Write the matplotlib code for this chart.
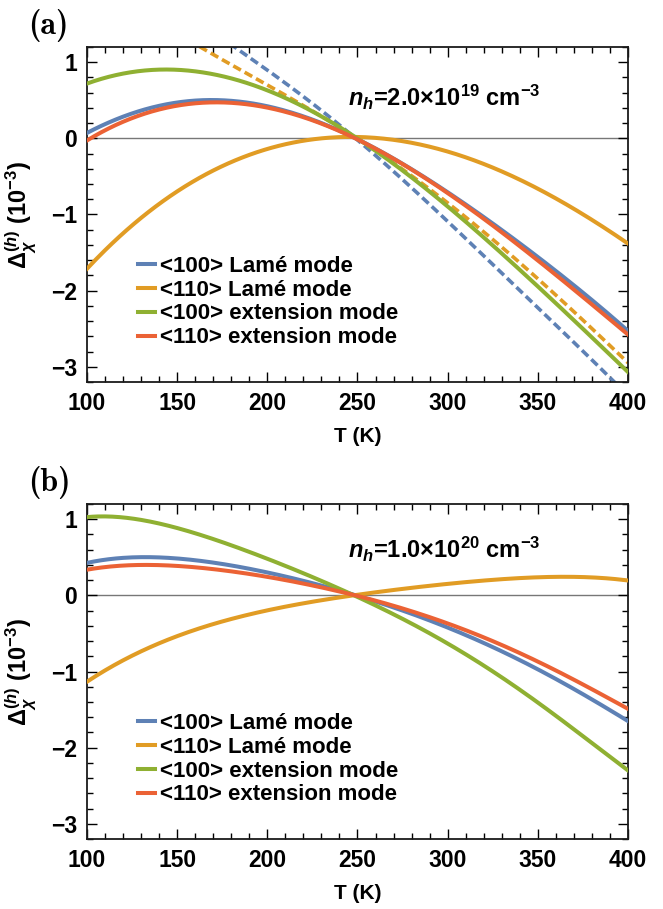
import numpy as np
import matplotlib
matplotlib.use("Agg")
import matplotlib.pyplot as plt
from matplotlib.ticker import MultipleLocator

plt.rcParams['font.family'] = ['Liberation Sans', 'DejaVu Sans']
plt.rcParams['font.weight'] = 'bold'
plt.rcParams['mathtext.fontset'] = 'custom'
plt.rcParams['mathtext.rm'] = 'Liberation Sans:bold'
plt.rcParams['mathtext.bf'] = 'Liberation Sans:bold'
plt.rcParams['mathtext.it'] = 'Liberation Sans:italic:bold'

# data (values in units of 1e-3)
T = [100, 125, 150, 175, 200, 225, 250, 275, 300, 325, 350, 375, 400]

# panel (a), n_h = 2.0e19
a_lame100 = [0.07, 0.33, 0.47, 0.50, 0.42, 0.24, 0.0, -0.33, -0.72, -1.12, -1.55, -2.03, -2.53]
a_lame110 = [-1.71, -1.15, -0.70, -0.36, -0.13, -0.01, 0.0, -0.05, -0.15, -0.38, -0.67, -1.00, -1.38]
a_ext100 = [0.72, 0.87, 0.90, 0.82, 0.63, 0.35, 0.0, -0.42, -0.90, -1.40, -1.95, -2.50, -3.07]
a_ext110 = [-0.03, 0.27, 0.43, 0.47, 0.40, 0.23, 0.0, -0.33, -0.73, -1.15, -1.60, -2.08, -2.58]
# dashed curves in (a)
Td = [150, 175, 200, 225, 250, 275, 300, 325, 350, 375, 400]
a_dash_blue = [1.75, 1.32, 0.89, 0.45, 0.0, -0.55, -1.10, -1.65, -2.22, -2.80, -3.38]
a_dash_orange = [1.38, 1.04, 0.70, 0.35, 0.0, -0.40, -0.85, -1.33, -1.85, -2.38, -2.95]

# panel (b), n_h = 1.0e20
b_lame100 = [0.43, 0.49, 0.49, 0.42, 0.30, 0.15, 0.0, -0.20, -0.42, -0.68, -0.97, -1.30, -1.65]
b_lame110 = [-1.13, -0.80, -0.54, -0.33, -0.19, -0.09, 0.0, 0.08, 0.16, 0.21, 0.24, 0.23, 0.20]
b_ext100 = [1.03, 1.00, 0.90, 0.70, 0.47, 0.23, 0.0, -0.30, -0.65, -1.00, -1.40, -1.85, -2.30]
b_ext110 = [0.34, 0.39, 0.39, 0.34, 0.24, 0.12, 0.0, -0.17, -0.37, -0.60, -0.87, -1.17, -1.49]

labels = ["<100> Lamé mode", "<110> Lamé mode",
          "<100> extension mode", "<110> extension mode"]
colors = ["#5E81B5", "#E19C24", "#8FB032", "#EB6235"]


def smooth(x, y, n=300):
    # smooth polynomial through the read points
    xs = np.linspace(x[0], x[-1], n)
    c = np.polyfit(x, y, 5)
    return xs, np.polyval(c, xs)


fig = plt.figure(figsize=(6.63, 9.09), dpi=100)
ax1 = fig.add_axes([0.1312, 0.5798, 0.816, 0.3685])
ax2 = fig.add_axes([0.1312, 0.0770, 0.816, 0.3685])

panels = [
    (ax1, [a_lame100, a_lame110, a_ext100, a_ext110],
     r'$\it{n}_{\it{h}}$=2.0×10$^{19}$ cm$^{-3}$', "(a)", 0.54),
    (ax2, [b_lame100, b_lame110, b_ext100, b_ext110],
     r'$\it{n}_{\it{h}}$=1.0×10$^{20}$ cm$^{-3}$', "(b)", 0.60),
]

for ax, series, note, tag, ny in panels:
    ax.axhline(0, color="#777777", lw=1.0, zorder=1)
    for ys, c, lab in zip(series, colors, labels):
        xs, yy = smooth(T, ys)
        ax.plot(xs, yy, color=c, lw=2.9, label=lab, zorder=3)
    if ax is ax1:
        xs, yy = smooth(Td, a_dash_blue)
        ax.plot(xs, yy, color=colors[0], lw=2.6, dashes=(2.4, 1.2), zorder=2)
        xs, yy = smooth(Td, a_dash_orange)
        ax.plot(xs, yy, color=colors[1], lw=2.6, dashes=(2.4, 1.2), zorder=2)

    ax.set_xlim(100, 400)
    ax.set_ylim(-3.2, 1.2)
    ax.xaxis.set_major_locator(MultipleLocator(50))
    ax.xaxis.set_minor_locator(MultipleLocator(10))
    ax.yaxis.set_major_locator(MultipleLocator(1))
    ax.yaxis.set_minor_locator(MultipleLocator(0.2))
    ax.tick_params(which="both", direction="in", top=True, right=True,
                   labelsize=16.5, width=1.0, colors="black")
    ax.tick_params(which="major", length=7, pad=7)
    ax.tick_params(which="minor", length=4)
    for lab in ax.get_xticklabels() + ax.get_yticklabels():
        lab.set_fontweight("bold")
    for sp in ax.spines.values():
        sp.set_linewidth(1.3)
        sp.set_color("#1a1a1a")

    ax.set_xlabel("T (K)", fontsize=15, fontweight="bold")
    ax.xaxis.set_label_coords(0.5, -0.135)
    ax.set_ylabel(r'$\Delta_{\it{\chi}}^{(\it{h})}$ (10$^{-3}$)', fontsize=17,
                  fontweight="bold")
    ax.yaxis.set_label_coords(-0.09, 0.5)
    ax.text(244.5, ny, note, fontsize=17, fontweight="bold", va="center")
    ax.text(-0.108, 1.015, tag, transform=ax.transAxes, fontsize=23,
            family="cmb10", va="bottom", ha="left")

    leg = ax.legend(loc="upper left", bbox_to_anchor=(0.094, 0.377),
                    frameon=False, fontsize=16, handlelength=0.77,
                    handletextpad=0.23, labelspacing=0.13, borderpad=0,
                    borderaxespad=0)
    for t in leg.get_texts():
        t.set_fontweight("bold")

fig.savefig("out.png", dpi=100)
